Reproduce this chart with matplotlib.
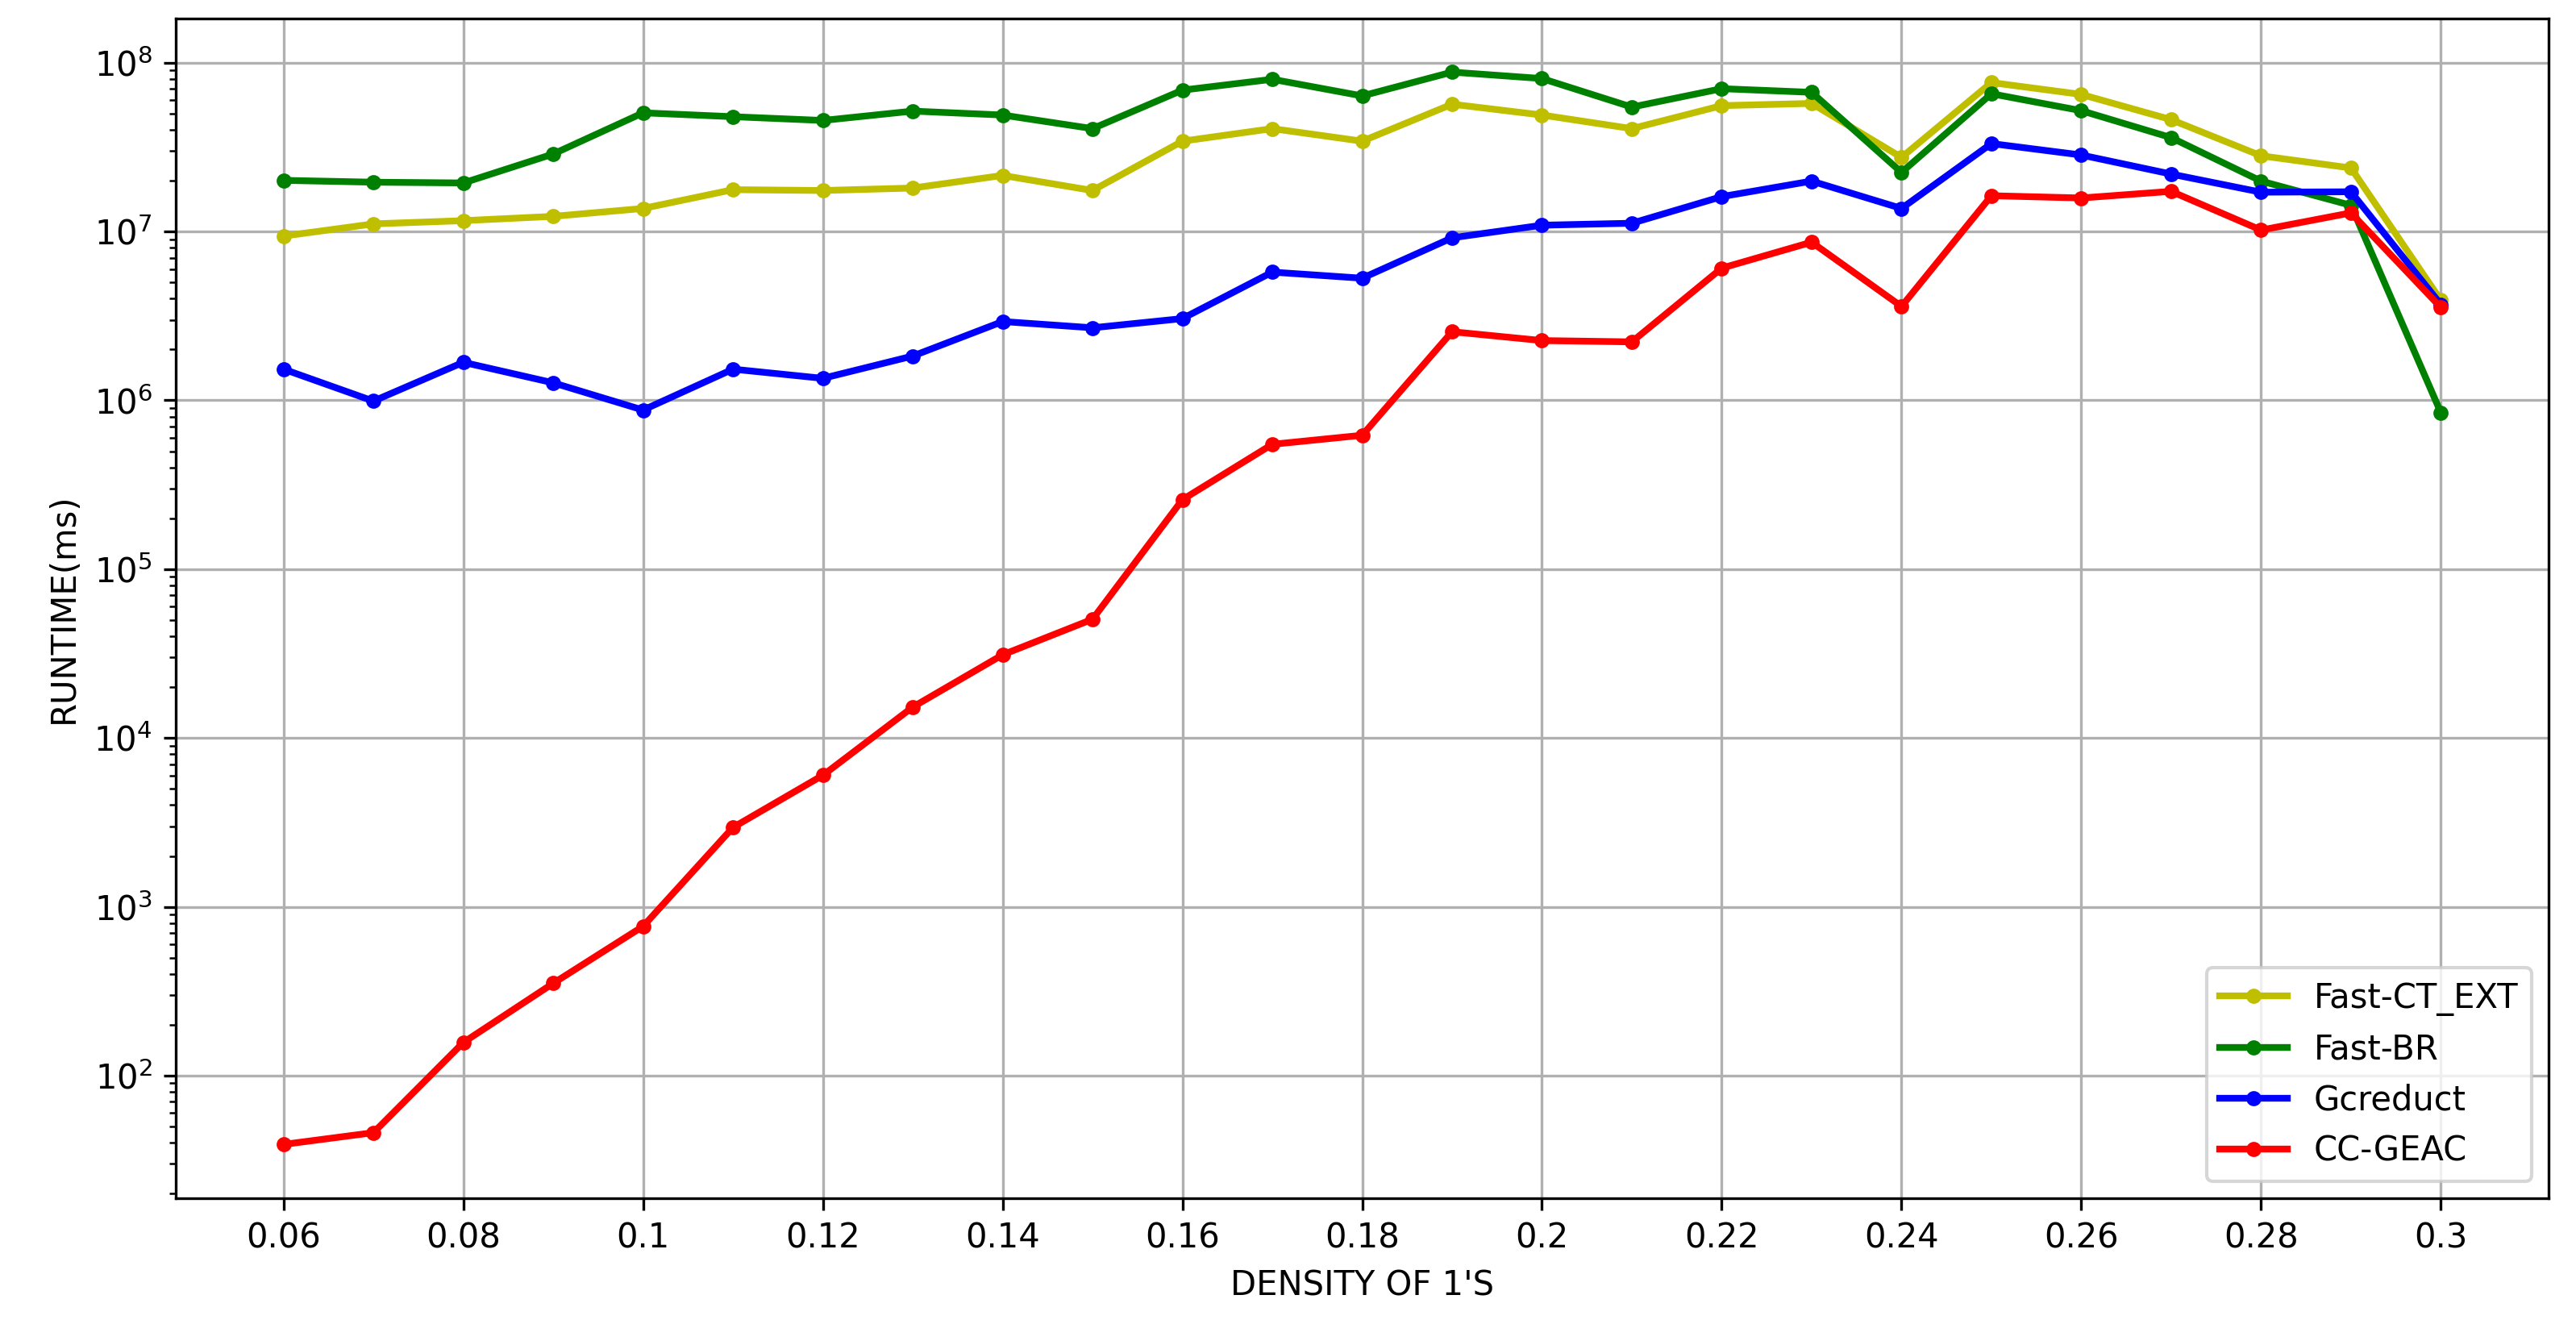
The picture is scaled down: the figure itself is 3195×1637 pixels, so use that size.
import matplotlib
matplotlib.use("Agg")
import matplotlib.pyplot as plt

density = [0.06, 0.07, 0.08, 0.09, 0.10, 0.11, 0.12, 0.13, 0.14, 0.15, 0.16, 0.17,
           0.18, 0.19, 0.20, 0.21, 0.22, 0.23, 0.24, 0.25, 0.26, 0.27, 0.28, 0.29, 0.30]

fast_ct_ext = [9.4e6, 1.11e7, 1.16e7, 1.23e7, 1.37e7, 1.77e7, 1.75e7, 1.81e7, 2.15e7,
               1.75e7, 3.43e7, 4.07e7, 3.43e7, 5.68e7, 4.9e7, 4.07e7, 5.57e7, 5.74e7,
               2.75e7, 7.63e7, 6.49e7, 4.6e7, 2.81e7, 2.38e7, 3.92e6]

fast_br = [2.01e7, 1.96e7, 1.94e7, 2.88e7, 5.05e7, 4.79e7, 4.55e7, 5.17e7, 4.9e7,
           4.07e7, 6.88e7, 7.98e7, 6.36e7, 8.8e7, 8.06e7, 5.46e7, 7.02e7, 6.68e7,
           2.24e7, 6.55e7, 5.2e7, 3.6e7, 1.99e7, 1.43e7, 8.46e5]

gcreduct = [1.53e6, 9.9e5, 1.68e6, 1.27e6, 8.76e5, 1.53e6, 1.35e6, 1.83e6, 2.93e6,
            2.69e6, 3.05e6, 5.75e6, 5.29e6, 9.18e6, 1.09e7, 1.12e7, 1.61e7, 1.99e7,
            1.37e7, 3.32e7, 2.84e7, 2.19e7, 1.71e7, 1.72e7, 3.7e6]

cc_geac = [39.1, 45.9, 157, 352, 766, 2950, 6010, 15240, 31100,
           50500, 2.58e5, 5.49e5, 6.21e5, 2.55e6, 2.26e6, 2.22e6, 6.07e6, 8.65e6,
           3.6e6, 1.63e7, 1.58e7, 1.73e7, 1.02e7, 1.29e7, 3.55e6]

series_names = ["Fast-CT_EXT", "Fast-BR", "Gcreduct", "CC-GEAC"]
series_colors = ["y", "g", "b", "r"]

xtick_values = [0.06, 0.08, 0.10, 0.12, 0.14, 0.16, 0.18, 0.20, 0.22, 0.24, 0.26, 0.28, 0.30]
xtick_labels = ["0.06", "0.08", "0.1", "0.12", "0.14", "0.16", "0.18", "0.2",
                "0.22", "0.24", "0.26", "0.28", "0.3"]

fig = plt.figure(figsize=(3195 / 300, 1637 / 300), dpi=300)
ax = fig.add_axes([0.0682, 0.0924, 0.9894 - 0.0682, 0.986 - 0.0924])

for vals, name, col in zip([fast_ct_ext, fast_br, gcreduct, cc_geac], series_names, series_colors):
    ax.plot(density, vals, marker="o", color=col, linewidth=2, markersize=3.5, label=name)

ax.set_yscale("log")
ax.set_xticks(xtick_values)
ax.set_xticklabels(xtick_labels)
ax.grid(True)
ax.set_xlabel("DENSITY OF 1'S")
ax.set_ylabel("RUNTIME(ms)")
ax.legend(loc="lower right")

fig.savefig("out.png", dpi=300)
